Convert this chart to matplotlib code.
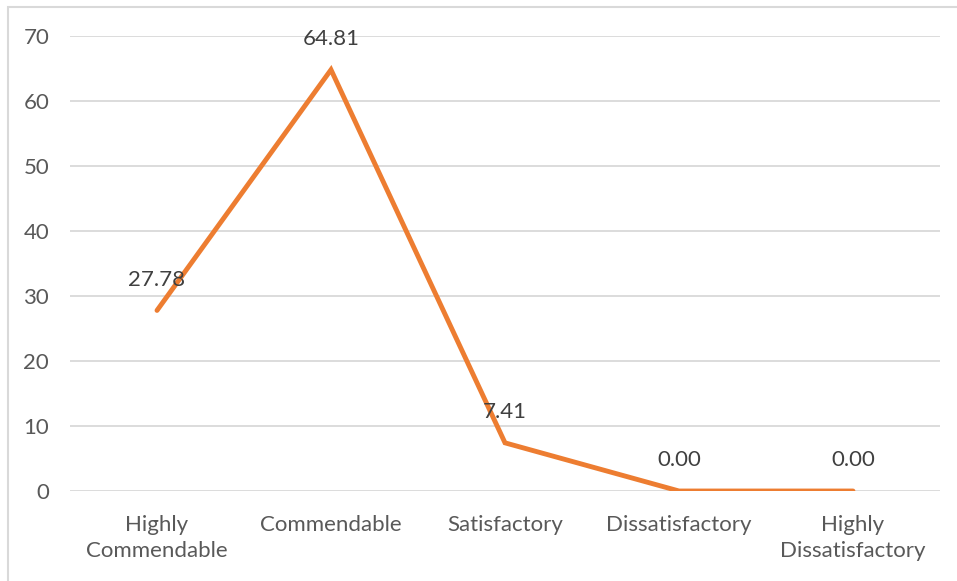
import matplotlib.pyplot as plt
from matplotlib.patches import Rectangle

categories = ['Highly\nCommendable', 'Commendable', 'Satisfactory',
              'Dissatisfactory', 'Highly\nDissatisfactory']
values = [27.78, 64.81, 7.41, 0.00, 0.00]
yticks = [0, 10, 20, 30, 40, 50, 60, 70]

plt.rcParams['font.family'] = ['Lato', 'DejaVu Sans']

fig = plt.figure(figsize=(9.57, 5.81), dpi=100)
ax = fig.add_axes([70 / 957, 90 / 581, 870 / 957, 455 / 581])

x = list(range(len(categories)))
ax.plot(x, values, color='#ED7D31', linewidth=3.5, solid_capstyle='round',
        solid_joinstyle='miter', zorder=3)

for xi, v in zip(x, values):
    ax.annotate(f'{v:.2f}', (xi, v), xytext=(0, 22), textcoords='offset points',
                ha='center', va='center', fontsize=16, color='#404040')

ax.set_xlim(-0.5, len(categories) - 0.5)
ax.set_ylim(0, 70)
ax.set_yticks(yticks)
ax.set_xticks(x)
ax.set_xticklabels(categories, linespacing=1.4)
ax.tick_params(axis='both', length=0, labelsize=16, labelcolor='#595959')
ax.tick_params(axis='x', pad=17)
ax.tick_params(axis='y', pad=15)
ax.grid(axis='y', color='#D9D9D9', linewidth=1.3)
ax.set_axisbelow(True)
for s in ax.spines.values():
    s.set_visible(False)

# outer chart frame
fig.patches.append(Rectangle((8 / 957, -0.1), 1.2, (581 - 7) / 581 + 0.1,
                             transform=fig.transFigure, fill=False,
                             edgecolor='#D9D9D9', linewidth=1.5))

fig.savefig('out.png', dpi=100, facecolor='white')
